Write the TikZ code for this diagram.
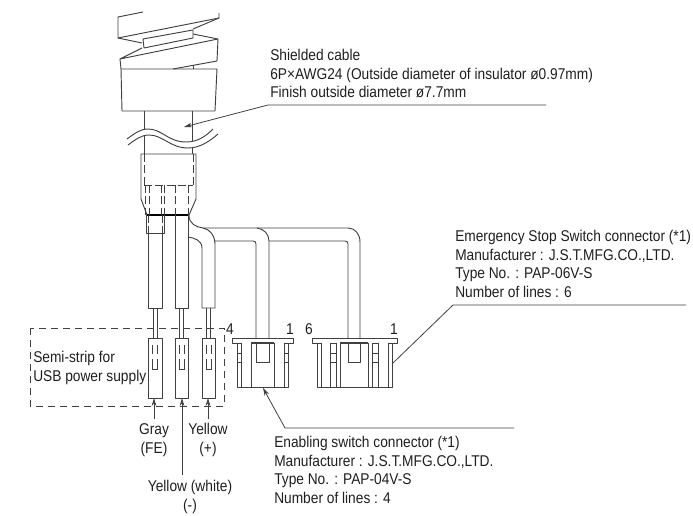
\documentclass[tikz,border=0pt]{standalone}
\usepackage{fontspec}
\setmainfont[FakeStretch=0.88]{Liberation Sans}
\usetikzlibrary{arrows.meta}
\definecolor{ink}{gray}{0.25}
\tikzset{
  part/.style={draw=ink,line width=0.7pt,line join=round},
  thin part/.style={draw=ink,line width=0.6pt},
  hidden/.style={draw=ink,line width=0.7pt,dash pattern=on 6pt off 2.5pt},
  leader/.style={draw=ink,line width=0.6pt},
  tip/.style={-{Stealth[length=6pt,width=3.5pt]}},
  lbl/.style={inner sep=0pt,font=\fontsize{11.7pt}{13.9pt}\selectfont,text=black!88},
  block/.style={lbl,align=left,anchor=north west},
  ctr/.style={lbl,align=center,anchor=center},
  semibox/.style={draw=ink,line width=0.7pt,dash pattern=on 5pt off 4pt}
}
\begin{document}
\begin{tikzpicture}[x=0.75pt,y=-0.75pt]
\useasboundingbox (0,0) rectangle (693,516);
% --- spring / cable cover
\draw[part] (143,12) -- (118,17) -- (118,38) -- (219,18) -- (219,13);
\draw[part] (219,18) -- (193,29);
\draw[part] (118,38) -- (142,43);
\draw[part] (143,39) -- (193,30) -- (193,38) -- (144,48) -- cycle;
\draw[part] (193,34) -- (218,39) -- (120,59) -- (142,48);
\draw[part] (218,39) -- (217,61) -- (173,69);
\draw[part] (193,65) -- (193,69);
\draw[part] (120,59) -- (121,69) -- (217,69) -- (215,111) -- (122,111) -- (121,69);
% --- shaft and break
\draw[part] (144,111) -- (144,130);
\draw[part] (192,111) -- (192,141);
\draw[part] (144,136) -- (144,154);
\draw[part] (192,147) -- (192,154);
\draw[part] (127,139) .. controls (134,134) and (140,129) .. (148,129) .. controls (162,129) and (168,142) .. (186,142) .. controls (198,142) and (206,136) .. (213,129);
\draw[part] (128,145) .. controls (135,140) and (141,135) .. (149,135) .. controls (163,135) and (170,148) .. (188,148) .. controls (200,148) and (210,141) .. (218,134);
% --- sleeve
\draw[part] (141,154) -- (196,154) -- (196,199) -- (189,215) -- (147,215) -- (141,199) -- cycle;
\draw[line width=0.8pt,draw=black] (147,215) -- (189,215);
\draw[hidden] (144,154) -- (144,185);
\draw[hidden] (193,154) -- (193,185);
\draw[hidden] (144,185) -- (193,185);
\foreach \xx in {145,149,161,164,175,188}{\draw[hidden] (\xx,185) -- (\xx,215);}
% --- left heat-shrink
\draw[part] (146,215) -- (146,233) -- (164,233) -- (164,215);
\draw[hidden] (148,215) -- (148,233);
\draw[hidden] (162,215) -- (162,233);
% --- wires to strips
\draw[part] (148,233) -- (148,308) -- (162,308) -- (162,233);
\draw[part] (175,215) -- (175,308) -- (188,308) -- (188,215);
\draw[part] (188,237) .. controls (194,238) and (202,240) .. (202,248) -- (202,308) -- (215,308) -- (215,244) .. controls (215,236) and (210,229) .. (203,228) .. controls (196,227) and (189,224) .. (189,215);
% --- two-core branch
\draw[part] (203,228) -- (348,228) .. controls (355,228) and (360,234) .. (360,242) -- (360,338);
\draw[part] (214,241) -- (253,241) .. controls (255,241) and (256,242) .. (256,244) -- (256,338);
\draw[part] (257,228) .. controls (264,229) and (269,234) .. (269,241) -- (269,338);
\draw[part] (269,241) -- (345,241) .. controls (347,241) and (348,242) .. (348,244) -- (348,338);
% --- strips
\foreach \l/\r in {148/162,175/188,202/215}{
  \pgfmathsetmacro{\mm}{(\l+\r)/2}
  \draw[part] (\mm-2,308) -- (\mm-2,338);
  \draw[part] (\mm+2,308) -- (\mm+2,338);
  \draw[part] (\l,338) rectangle (\r,398);
  \draw[thin part] (\mm-2.5,345) -- (\mm-2.5,354);
  \draw[thin part] (\mm+2.5,345) -- (\mm+2.5,354);
  \draw[thin part] (\mm-2.5,359) -- (\mm-2.5,369) -- (\mm+2.5,369) -- (\mm+2.5,359);
}
% --- semi-strip box
\draw[semibox] (30,328) rectangle (224,406);
% --- connector 4
\draw[part] (232,338) -- (293,338) -- (293,343) -- (284,343);
\draw[part] (232,338) -- (232,343) -- (241,343);
\draw[part] (237,343) -- (237,387) -- (288,387) -- (288,343);
\draw[part] (241,343) -- (241,387);
\draw[part] (284,343) -- (284,387);
\draw[part] (251,343) -- (251,387);
\draw[part] (274,343) -- (274,387);
\draw[part,line width=1pt] (251,343) -- (274,343);
\draw[part] (256,343) -- (256,362) -- (269,362) -- (269,343);
\foreach \yy in {353,362}{
  \draw[thin part] (237,\yy) -- (241,\yy);
  \draw[thin part] (284,\yy) -- (288,\yy);
}
% --- connector 6
\draw[part] (312,338) -- (397,338) -- (397,343) -- (388,343);
\draw[part] (312,338) -- (312,343) -- (321,343);
\draw[part] (317,343) -- (317,387) -- (392,387) -- (392,343);
\foreach \xx in {321,330,336,340,368,372,378,388}{\draw[part] (\xx,343) -- (\xx,387);}
\draw[part] (330,343) -- (336,343);
\draw[part,line width=1pt] (340,343) -- (368,343);
\draw[part] (372,343) -- (378,343);
\draw[part] (348,343) -- (348,362) -- (360,362) -- (360,343);
\foreach \yy in {353,362}{
  \draw[thin part] (330,\yy) -- (336,\yy);
  \draw[thin part] (372,\yy) -- (378,\yy);
}
% --- pin numbers
\node[ctr] (pinfour) at (230,329) {4};
\node[ctr] (pinonea) at (290,329) {1};
\node[ctr] (pinsix) at (309,329) {6};
\node[ctr] (pinoneb) at (394,329) {1};
% --- texts
\node[block] (shield) at (270,49) {Shielded cable\\6P×AWG24 (Outside diameter of insulator ø0.97mm)\\Finish outside diameter ø7.7mm};
\node[block] (estop) at (455,230) {Emergency Stop Switch connector (*1)\\Manufacturer : J.S.T.MFG.CO.,LTD.\\Type No. : PAP-06V-S\\Number of lines : 6};
\node[block] (enable) at (274,436) {Enabling switch connector (*1)\\Manufacturer : J.S.T.MFG.CO.,LTD.\\Type No. : PAP-04V-S\\Number of lines : 4};
\node[block] (semi) at (33,351) {Semi-strip for\\USB power supply};
\node[ctr] (gray) at (154,440) {Gray\\(FE)};
\node[ctr] (yplus) at (208,440) {Yellow\\(+)};
\node[ctr] (ywhite) at (190,497) {Yellow (white)\\(-)};
% --- leaders
\coordinate (shA) at (546,105); \coordinate (shB) at (268,105); \coordinate (shC) at (184,127);
\draw[leader,tip] (shA) -- (shB) -- (shC);
\coordinate (esA) at (686,305); \coordinate (esB) at (453,305); \coordinate (esC) at (392,364);
\draw[leader] (esA) -- (esB) -- (esC);
\coordinate (enA) at (514,428); \coordinate (enB) at (285,428); \coordinate (enC) at (263,388);
\draw[leader,tip] (enA) -- (enB) -- (enC);
\coordinate (tipa) at (154,398); \coordinate (tipb) at (182,398); \coordinate (tipc) at (208,398);
\draw[leader,tip] (154,419) -- (tipa);
\draw[leader,tip] (182,475) -- (tipb);
\draw[leader,tip] (208,419) -- (tipc);
\end{tikzpicture}
\end{document}
